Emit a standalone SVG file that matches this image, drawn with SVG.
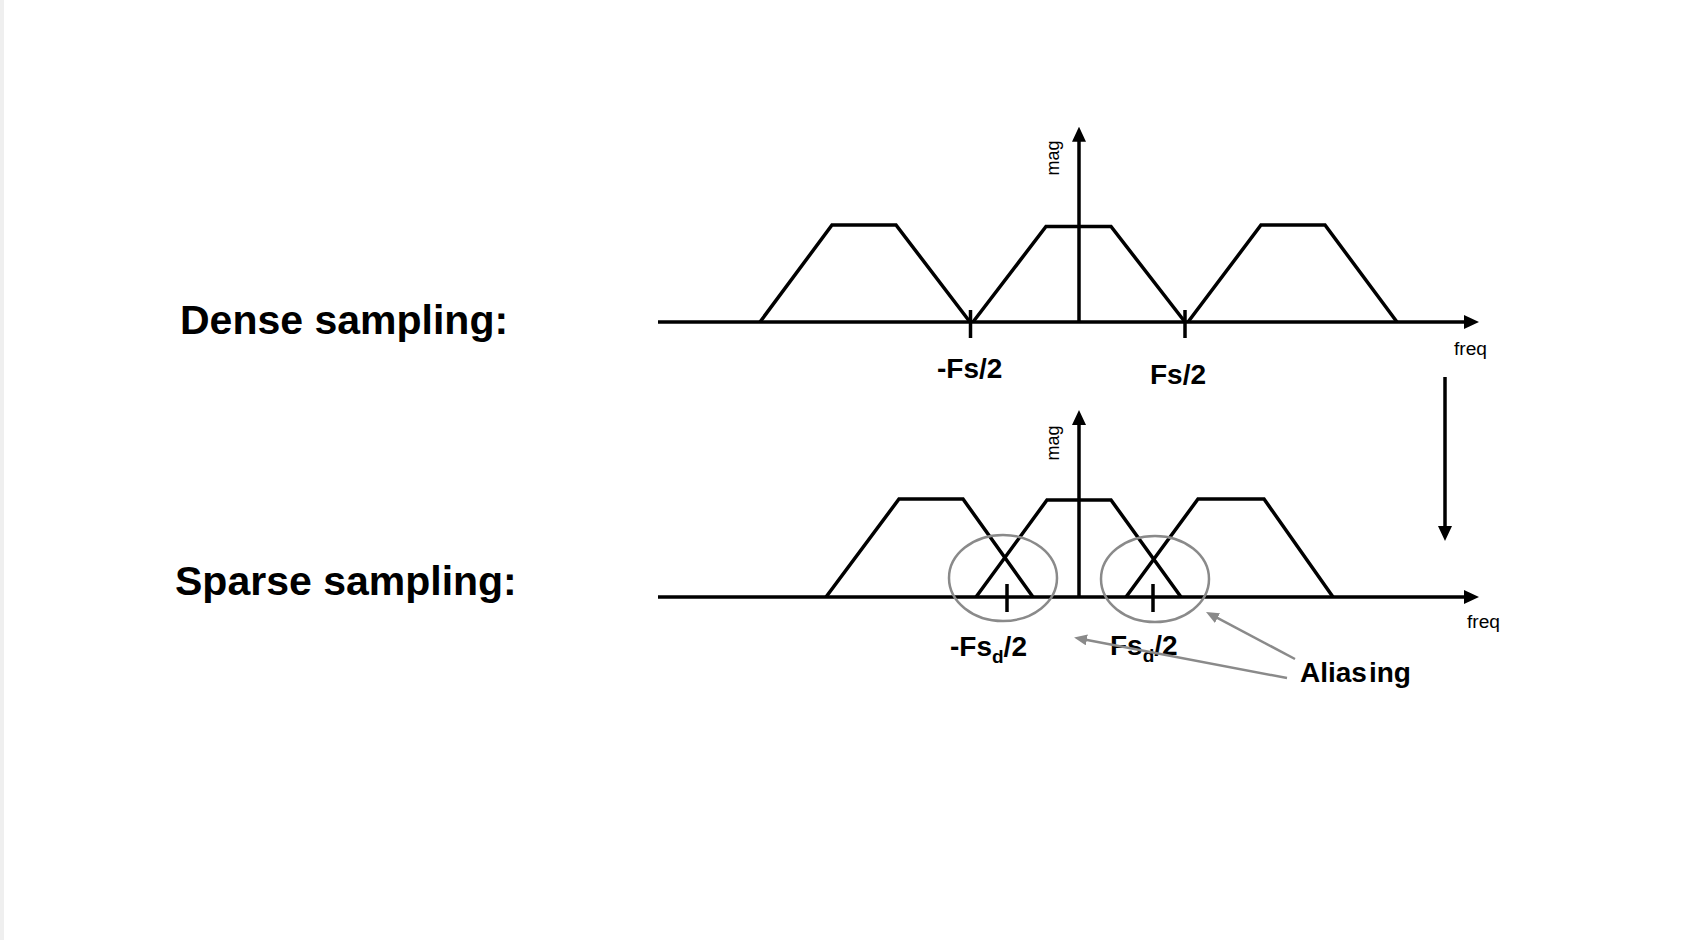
<svg xmlns="http://www.w3.org/2000/svg" width="1686" height="940" viewBox="0 0 1686 940">
<style>
.bg{fill:#ffffff}
.edge{fill:#efefef}
.ax{stroke:#000;stroke-width:3.5;fill:none}
.tr{stroke:#000;stroke-width:3.5;fill:none;stroke-linejoin:miter}
.tk{stroke:#000;stroke-width:3.5}
.ring{stroke:#8a8a8a;stroke-width:2.5;fill:none}
.gl{stroke:#8a8a8a;stroke-width:2.5;fill:none}
.big{font-family:"Liberation Sans",Arial,sans-serif;font-weight:bold;font-size:41px;fill:#000}
.lab{font-family:"Liberation Sans",Arial,sans-serif;font-weight:bold;font-size:28px;fill:#000}
.sm{font-family:"Liberation Sans",Arial,sans-serif;font-size:18px;fill:#000}
</style>
<defs>
<marker id="blk" viewBox="0 0 15 14" refX="5" refY="7" markerWidth="15" markerHeight="14" markerUnits="userSpaceOnUse" orient="auto">
<path d="M0,0 L15,7 L0,14 z" fill="#000"/>
</marker>
<marker id="gry" viewBox="0 0 13 11" refX="5" refY="5.5" markerWidth="13" markerHeight="11" markerUnits="userSpaceOnUse" orient="auto">
<path d="M0,0 L13,5.5 L0,11 z" fill="#8a8a8a"/>
</marker>
</defs>
<rect class="bg" x="0" y="0" width="1686" height="940"/>
<rect class="edge" x="0" y="0" width="4" height="940"/>

<g id="dense-label">
<text class="big" x="180" y="334">Dense sampling:</text>
</g>
<g id="sparse-label">
<text class="big" x="175" y="595">Sparse sampling:</text>
</g>

<g id="dense-plot">
<line class="ax" x1="658" y1="322" x2="1469" y2="322" marker-end="url(#blk)"/>
<line class="ax" x1="1079" y1="322" x2="1079" y2="136.7" marker-end="url(#blk)"/>
<polyline class="tr" points="760,322 832,225 896,225 970,322"/>
<polyline class="tr" points="973,322 1046,226.5 1111,226.5 1185,322"/>
<polyline class="tr" points="1188,322 1261,225 1325,225 1397,322"/>
<line class="tk" x1="970.5" y1="310" x2="970.5" y2="338"/>
<line class="tk" x1="1185" y1="310" x2="1185" y2="338"/>
<text class="sm" transform="translate(1059,158) rotate(-90)" text-anchor="middle">mag</text>
<text class="sm" x="1454" y="355" textLength="33" lengthAdjust="spacingAndGlyphs">freq</text>
<text class="lab" x="937" y="378">-Fs/2</text>
<text class="lab" x="1150" y="384">Fs/2</text>
</g>

<g id="sparse-plot">
<line class="ax" x1="658" y1="597" x2="1469" y2="597" marker-end="url(#blk)"/>
<line class="ax" x1="1079" y1="597" x2="1079" y2="420" marker-end="url(#blk)"/>
<polyline class="tr" points="826,597 899,499 963,499 1033,597"/>
<polyline class="tr" points="976,597 1047,500 1111,500 1181,597"/>
<polyline class="tr" points="1126,597 1198,499 1264,499 1333,597"/>
<line class="tk" x1="1007" y1="584" x2="1007" y2="612"/>
<line class="tk" x1="1153" y1="584" x2="1153" y2="612"/>
<ellipse class="ring" cx="1003" cy="578" rx="54" ry="43"/>
<ellipse class="ring" cx="1155" cy="579" rx="54" ry="43"/>
<text class="sm" transform="translate(1059,443) rotate(-90)" text-anchor="middle">mag</text>
<text class="sm" x="1467" y="628" textLength="33" lengthAdjust="spacingAndGlyphs">freq</text>
<text class="lab" x="950" y="656">-Fs<tspan font-size="19" dy="7">d</tspan><tspan dy="-7">/2</tspan></text>
<text class="lab" x="1110" y="655">Fs<tspan font-size="19" dy="7">d</tspan><tspan dy="-7">/2</tspan></text>
<text class="lab" x="1300" y="682">Alias<tspan dx="2">ing</tspan></text>
</g>

<g id="connectors">
<line class="ax" x1="1445" y1="377" x2="1445" y2="531" marker-end="url(#blk)"/>
<line class="gl" x1="1295" y1="659" x2="1213.1" y2="615.7" marker-end="url(#gry)"/>
<line class="gl" x1="1287" y1="678" x2="1081.9" y2="639" marker-end="url(#gry)"/>
</g>
</svg>
